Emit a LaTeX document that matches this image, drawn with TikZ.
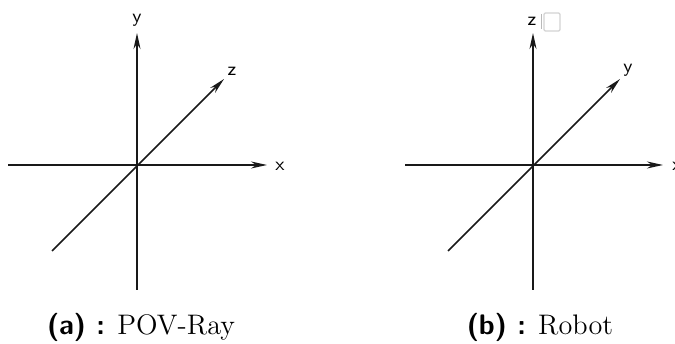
\documentclass[tikz,border=0pt]{standalone}
\usepackage{tikz}
\usetikzlibrary{arrows.meta}

\tikzset{
  axisline/.style={line width=0.6pt, black!90, -{Stealth[length=6.4pt,width=2.8pt]}},
  axislabel/.style={font=\fontsize{7.5}{9}\selectfont\sffamily, inner sep=0pt},
  subcap/.style={font=\fontsize{11.3}{13}\selectfont, inner sep=0pt}
}

\begin{document}
\begin{tikzpicture}[x=0.4pt, y=-0.4pt]
    \useasboundingbox (0,0) rectangle (675,344);

    % (a) POV-Ray frame
    \coordinate (aW) at (8,165);
    \coordinate (aE) at (267,165);
    \coordinate (aS) at (137,290);
    \coordinate (aN) at (137,33);
    \coordinate (aSW) at (52,251);
    \coordinate (aNE) at (224,79);
    \draw[axisline] (aW) -- (aE);
    \draw[axisline] (aS) -- (aN);
    \draw[axisline] (aSW) -- (aNE);
    \node[axislabel] (aX) at (280,166) {x};
    \node[axislabel] (aY) at (137,20) {y};
    \node[axislabel] (aZ) at (232,71) {z};

    % (b) Robot frame
    \coordinate (bW) at (405,165);
    \coordinate (bE) at (663,165);
    \coordinate (bS) at (533,290);
    \coordinate (bN) at (533,33);
    \coordinate (bSW) at (448,251);
    \coordinate (bNE) at (620,79);
    \draw[axisline] (bW) -- (bE);
    \draw[axisline] (bS) -- (bN);
    \draw[axisline] (bSW) -- (bNE);
    \node[axislabel] (bX) at (677,166) {x};
    \node[axislabel] (bZ) at (532,21) {z};
    \node[axislabel] (bY) at (628,70) {y};
    \draw[gray!55, line width=0.4pt] (541,14) -- (541,29);
    \draw[gray!35, line width=0.5pt, rounded corners=0.5pt] (544,13) rectangle (560,31);

    % captions
    \node[subcap] (capA) at (141,327) {\textsf{\bfseries (a) :} POV-Ray};
    \node[subcap] (capB) at (540,327) {\textsf{\bfseries (b) :} Robot};
\end{tikzpicture}
\end{document}
